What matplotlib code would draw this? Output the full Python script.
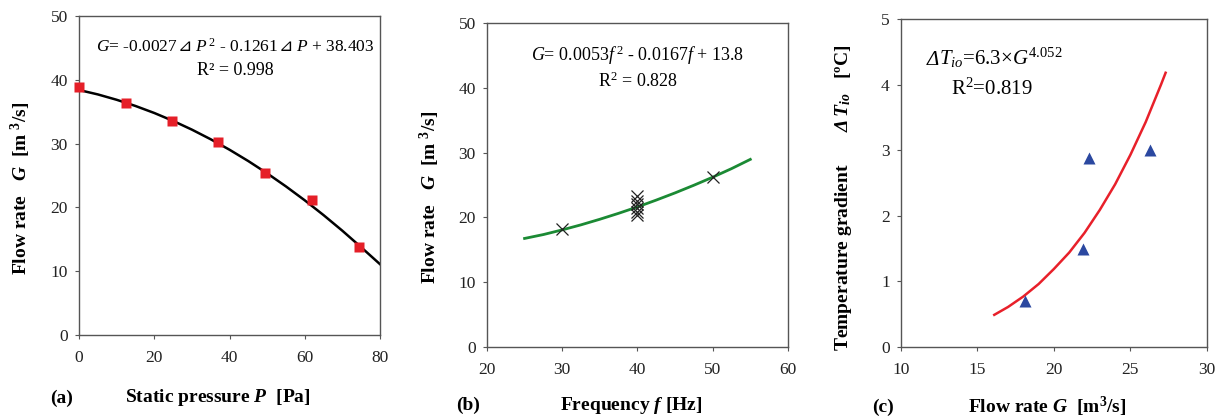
import numpy as np
import matplotlib
matplotlib.use("Agg")
import matplotlib.pyplot as plt
from matplotlib.offsetbox import TextArea, HPacker, AnnotationBbox

plt.rcParams['font.family'] = ['Liberation Serif', 'DejaVu Sans']
plt.rcParams['mathtext.fontset'] = 'custom'
plt.rcParams['mathtext.rm'] = 'Liberation Serif'
plt.rcParams['mathtext.it'] = 'Liberation Serif:italic'
plt.rcParams['mathtext.bf'] = 'Liberation Serif:bold'
plt.rcParams['mathtext.sf'] = 'Liberation Serif:bold:italic'
plt.rcParams['mathtext.fallback'] = 'stix'

# (a) pressione statica vs portata
p_pts = [0, 12.4, 24.8, 37.0, 49.5, 62.0, 74.5]
g_pts_a = [38.8, 36.3, 33.6, 30.3, 25.4, 21.1, 13.8]
p_fit = [0, 5, 10, 15, 20, 25, 30, 35, 40, 45, 50, 55, 60, 65, 70, 75, 80]
g_fit_a = [38.40, 37.71, 36.87, 35.90, 34.80, 33.56, 32.19, 30.68, 29.04,
           27.26, 25.34, 23.29, 21.11, 18.79, 16.34, 13.75, 11.10]

# (b) frequenza vs portata
f_pts = [30, 40, 40, 40, 40, 40, 40, 50]
g_pts_b = [18.2, 20.4, 20.9, 21.5, 22.0, 22.5, 23.3, 26.3]
f_fit = [25, 27.5, 30, 32.5, 35, 37.5, 40, 42.5, 45, 47.5, 50, 52.5, 55]
g_fit_b = [16.75, 17.35, 18.07, 18.85, 19.71, 20.63, 21.61, 22.67,
           23.78, 24.96, 26.2, 27.52, 28.95]

# (c) portata vs gradiente di temperatura
g_pts_c = [18.1, 21.9, 22.3, 26.3]
t_pts = [0.70, 1.50, 2.88, 3.00]
g_fit_c = [16.1, 17, 18, 19, 20, 21, 22, 23, 24, 25, 26, 27, 27.3]
t_fit = [0.49, 0.61, 0.77, 0.96, 1.19, 1.44, 1.74, 2.09, 2.48, 2.93,
         3.43, 4.00, 4.18]


def testo_composto(ax, pezzi, xy, fontsize, align=(0.5, 0.5)):
    """Mette insieme pezzi di testo con stili diversi su una riga."""
    aree = []
    for txt, stile in pezzi:
        props = dict(fontsize=fontsize, family=['Liberation Serif', 'DejaVu Sans'])
        props.update(stile)
        aree.append(TextArea(txt, textprops=props))
    box = HPacker(children=aree, align="baseline", pad=0, sep=0)
    ab = AnnotationBbox(box, xy, xycoords='axes fraction', frameon=False,
                        box_alignment=align, pad=0)
    ax.add_artist(ab)


fig = plt.figure(figsize=(12.18, 4.17), dpi=100)
ax_a = fig.add_axes([0.0649, 0.1966, 0.2471, 0.765])
ax_b = fig.add_axes([0.3998, 0.1679, 0.2471, 0.777])
ax_c = fig.add_axes([0.7397, 0.1679, 0.2512, 0.7866])

for ax in (ax_a, ax_b, ax_c):
    for s in ax.spines.values():
        s.set_color('#555555')
        s.set_linewidth(1.0)
    ax.tick_params(direction='out', length=3, width=0.8, color='#555555',
                   labelsize=12.5, labelcolor='#222222')
    ax.tick_params(axis='x', pad=8)
    ax.tick_params(axis='y', pad=5)

# --- (a)
ax_a.plot(p_fit, g_fit_a, color='black', lw=1.8, zorder=2)
ax_a.plot(p_pts, g_pts_a, 's', color='#e51f28', ms=7, mec='none', zorder=3,
          clip_on=False)
ax_a.set_xlim(0, 80)
ax_a.set_ylim(0, 50)
ax_a.set_xticks([0, 20, 40, 60, 80])
ax_a.set_yticks([0, 10, 20, 30, 40, 50])
testo_composto(ax_a, [
    (r"$\mathit{G}$= -0.0027", {}),
    ("⊿", {'style': 'italic'}),
    (r"$\;\mathit{P}^{\,2}$ - 0.1261", {}),
    ("⊿", {'style': 'italic'}),
    (r"$\;\mathit{P}$ + 38.403", {}),
], (0.52, 0.905), 12.5)
ax_a.text(0.52, 0.83, "R² = 0.998", transform=ax_a.transAxes,
          ha='center', va='center', fontsize=13)

# --- (b)
ax_b.plot(f_fit, g_fit_b, color='#1b8a34', lw=2, zorder=2)
ax_b.plot(f_pts, g_pts_b, 'x', color='#222222', ms=9, mew=0.9, zorder=3)
ax_b.set_xlim(20, 60)
ax_b.set_ylim(0, 50)
ax_b.set_xticks([20, 30, 40, 50, 60])
ax_b.set_yticks([0, 10, 20, 30, 40, 50])
ax_b.text(0.5, 0.9, r"$\mathit{G}$= 0.0053$\mathit{f}^{\,2}$ - 0.0167$\mathit{f}$ + 13.8",
          transform=ax_b.transAxes, ha='center', va='center', fontsize=13)
ax_b.text(0.5, 0.82, r"R$^{2}$ = 0.828", transform=ax_b.transAxes,
          ha='center', va='center', fontsize=13)

# --- (c)
ax_c.plot(g_fit_c, t_fit, color='#e8202a', lw=1.8, zorder=2)
ax_c.plot(g_pts_c, t_pts, '^', color='#2b48a0', ms=8, mec='none', zorder=3)
ax_c.set_xlim(10, 30)
ax_c.set_ylim(0, 5)
ax_c.set_xticks([10, 15, 20, 25, 30])
ax_c.set_yticks([0, 1, 2, 3, 4, 5])
testo_composto(ax_c, [
    ("Δ", {'style': 'italic'}),
    (r"$\mathit{T_{io}}$=6.3×$\mathit{G}^{4.052}$", {}),
], (0.085, 0.88), 15, align=(0, 0.5))
ax_c.text(0.165, 0.785, r"R$^{2}$=0.819", transform=ax_c.transAxes,
          ha='left', va='center', fontsize=15)

# etichette assi e lettere pannelli
fs = 14
fig.text(218 / 1218, 1 - 398 / 417, r"Static pressure $\mathsf{P}$  [Pa]",
         ha='center', va='center', fontsize=fs, fontweight='bold')
fig.text(62 / 1218, 1 - 398 / 417, "(a)", ha='center', va='center',
         fontsize=fs, fontweight='bold')
fig.text(21 / 1218, 1 - 188 / 417, r"Flow rate   $\mathsf{G}$  [m $^{\mathbf{3}}$/s]",
         ha='center', va='center', rotation=90, fontsize=fs, fontweight='bold')

fig.text(631 / 1218, 1 - 405 / 417, r"Frequency $\mathsf{f}$ [Hz]",
         ha='center', va='center', fontsize=fs, fontweight='bold')
fig.text(468 / 1218, 1 - 405 / 417, "(b)", ha='center', va='center',
         fontsize=fs, fontweight='bold')
fig.text(430 / 1218, 1 - 197 / 417, r"Flow rate   $\mathsf{G}$  [m $^{\mathbf{3}}$/s]",
         ha='center', va='center', rotation=90, fontsize=fs, fontweight='bold')

fig.text(1047 / 1218, 1 - 407 / 417, r"Flow rate $\mathsf{G}$  [m$^{\mathbf{3}}$/s]",
         ha='center', va='center', fontsize=fs, fontweight='bold')
fig.text(883 / 1218, 1 - 407 / 417, "(c)", ha='center', va='center',
         fontsize=fs, fontweight='bold')
fig.text(843 / 1218, 1 - 198 / 417,
         r"Temperature gradient       $\mathsf{Δ\,T_{io}}$   [ºC]",
         ha='center', va='center', rotation=90, fontsize=fs, fontweight='bold')

fig.savefig("out.png", dpi=100)
